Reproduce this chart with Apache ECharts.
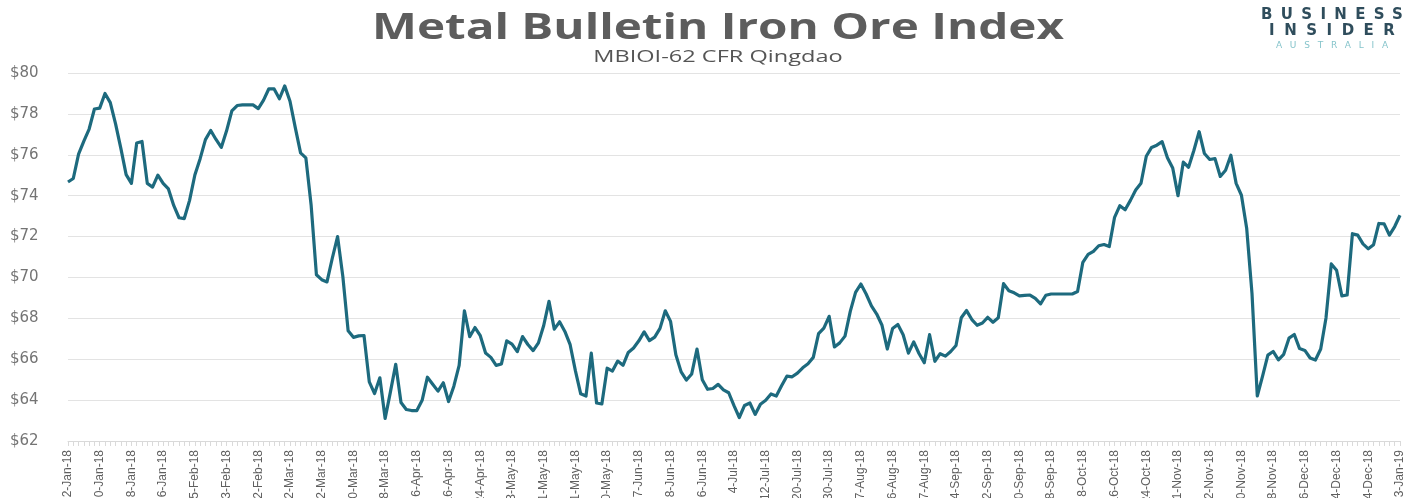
<!DOCTYPE html>
<html>
<head>
<meta charset="utf-8">
<script src="https://cdn.jsdelivr.net/npm/echarts@6/dist/echarts.min.js"></script>
<style>
  html, body { margin: 0; padding: 0; background: #ffffff; }
  #wrap { position: relative; width: 1410px; height: 498px; overflow: hidden; }
  #chart { width: 1410px; height: 498px; }
  #logo { position: absolute; left: 1250px; top: 7px; width: 164px; text-align: center; font-family: "DejaVu Sans", sans-serif; font-weight: bold; line-height: 1; }
  #logo .l1 { font-size: 15px; letter-spacing: 8.3px; padding-left: 8.3px; color: #2f4d5c; }
  #logo .l2 { font-size: 15px; letter-spacing: 9.5px; padding-left: 9.5px; color: #2f4d5c; margin-top: 1px; }
  #logo .l3 { font-size: 9px; letter-spacing: 7.8px; padding-left: 7.8px; color: #86c4cb; margin-top: 3px; font-weight: normal; }
</style>
</head>
<body>
<div id="wrap">
  <div id="chart"></div>
  <div id="logo"><div class="l1">BUSINESS</div><div class="l2">INSIDER</div><div class="l3">AUSTRALIA</div></div>
</div>
<script>
// ---- data ----
const titleText = 'Metal Bulletin Iron Ore Index';
const subtitleText = 'MBIOI-62 CFR Qingdao';

// trading days: weekdays from 2-Jan-2018 to 3-Jan-2019, minus holidays
const firstDay = '2018-01-02';
const lastDay = '2019-01-03';
const holidays = ['2018-02-16','2018-03-30','2018-05-01','2018-05-28','2018-06-15',
                  '2018-08-15','2018-08-20','2018-11-05','2018-12-25','2019-01-01'];
const monthNames = ['Jan','Feb','Mar','Apr','May','Jun','Jul','Aug','Sep','Oct','Nov','Dec'];

// MBIOI-62 index, US$/t
const prices = [
  74.67, 74.84, 76.03, 76.67, 77.26, 78.24, 78.28, 79.00, 78.55, 77.51,
  76.31, 75.03, 74.60, 76.58, 76.65, 74.60, 74.42, 75.00, 74.60, 74.33,
  73.52, 72.92, 72.88, 73.77, 75.01, 75.81, 76.74, 77.19, 76.75, 76.36,
  77.17, 78.15, 78.41, 78.44, 78.44, 78.44, 78.26, 78.67, 79.23, 79.22,
  78.74, 79.37, 78.62, 77.33, 76.09, 75.85, 73.53, 70.13, 69.89, 69.78,
  70.94, 72.00, 70.04, 67.39, 67.07, 67.14, 67.16, 64.89, 64.32, 65.09,
  63.10, 64.40, 65.75, 63.88, 63.54, 63.49, 63.49, 63.99, 65.12, 64.78,
  64.44, 64.85, 63.93, 64.68, 65.70, 68.37, 67.10, 67.55, 67.15, 66.30,
  66.09, 65.70, 65.77, 66.90, 66.74, 66.37, 67.11, 66.72, 66.42, 66.80,
  67.65, 68.83, 67.47, 67.83, 67.36, 66.71, 65.43, 64.31, 64.20, 66.30,
  63.86, 63.81, 65.56, 65.42, 65.91, 65.70, 66.33, 66.55, 66.90, 67.34,
  66.91, 67.08, 67.51, 68.37, 67.85, 66.22, 65.38, 64.98, 65.28, 66.50,
  65.00, 64.53, 64.57, 64.77, 64.50, 64.36, 63.73, 63.15, 63.74, 63.86,
  63.30, 63.80, 63.99, 64.30, 64.20, 64.70, 65.17, 65.14, 65.32, 65.58,
  65.78, 66.09, 67.25, 67.52, 68.10, 66.60, 66.80, 67.13, 68.34, 69.27,
  69.68, 69.19, 68.61, 68.21, 67.66, 66.50, 67.50, 67.70, 67.20, 66.30,
  66.85, 66.28, 65.83, 67.20, 65.90, 66.27, 66.15, 66.38, 66.67, 68.03,
  68.38, 67.94, 67.66, 67.77, 68.05, 67.81, 68.03, 69.70, 69.35, 69.25,
  69.10, 69.12, 69.14, 68.98, 68.71, 69.13, 69.19, 69.19, 69.19, 69.19,
  69.19, 69.31, 70.74, 71.13, 71.28, 71.55, 71.61, 71.51, 72.94, 73.51,
  73.31, 73.77, 74.28, 74.61, 75.93, 76.36, 76.47, 76.64, 75.85, 75.35,
  74.00, 75.64, 75.39, 76.21, 77.13, 76.06, 75.77, 75.81, 74.94, 75.24,
  75.98, 74.60, 74.02, 72.39, 69.21, 64.20, 65.17, 66.20, 66.38, 65.97,
  66.24, 67.03, 67.21, 66.52, 66.43, 66.06, 65.96, 66.50, 68.02, 70.66,
  70.35, 69.10, 69.14, 72.14, 72.07, 71.64, 71.40, 71.60, 72.64, 72.62,
  72.07, 72.49, 73.04
];

const yMin = 62, yMax = 80, yStep = 2;

// ---- build categories ----
function buildDates() {
  const out = [];
  const hol = new Set(holidays);
  const d = new Date(firstDay + 'T00:00:00Z');
  const end = new Date(lastDay + 'T00:00:00Z');
  while (d <= end) {
    const wd = d.getUTCDay();
    const iso = d.toISOString().slice(0, 10);
    if (wd !== 0 && wd !== 6 && !hol.has(iso)) {
      out.push(d.getUTCDate() + '-' + monthNames[d.getUTCMonth()] + '-' + String(d.getUTCFullYear()).slice(2));
    }
    d.setUTCDate(d.getUTCDate() + 1);
  }
  return out;
}
const categories = buildDates();

const chart = echarts.init(document.getElementById('chart'));
chart.setOption({
  backgroundColor: '#ffffff',
  animation: false,
  graphic: [
    { type: 'text', x: 718, y: 12, scaleX: 1.36, silent: true,
      style: { text: titleText, fontFamily: 'Open Sans', fontWeight: 'bold', fontSize: 35,
               fill: '#5d5d5d', textAlign: 'center', textVerticalAlign: 'top' } },
    { type: 'text', x: 718, y: 50, scaleX: 1.52, silent: true,
      style: { text: subtitleText, fontFamily: 'Open Sans', fontWeight: 'normal', fontSize: 15.5,
               fill: '#555555', textAlign: 'center', textVerticalAlign: 'top' } }
  ],
  grid: { left: 68, right: 10, top: 73, bottom: 57, containLabel: false, outerBoundsMode: 'none' },
  xAxis: {
    type: 'category',
    data: categories,
    boundaryGap: false,
    axisLine: { show: true, lineStyle: { color: '#d9d9d9', width: 1 } },
    axisTick: { show: true, interval: 0, length: 5, lineStyle: { color: '#dadada' } },
    axisLabel: {
      interval: 5, rotate: 90, margin: 9,
      fontFamily: 'Liberation Sans Narrow, Liberation Sans, sans-serif',
      fontSize: 12, color: '#5f5f5f'
    },
    splitLine: { show: false }
  },
  yAxis: {
    type: 'value',
    min: yMin, max: yMax, interval: yStep,
    axisLine: { show: false },
    axisTick: { show: false },
    axisLabel: {
      formatter: v => '$' + v,
      align: 'left', margin: 58,
      fontFamily: 'DejaVu Sans', fontSize: 15, color: '#747474'
    },
    splitLine: { show: true, lineStyle: { color: '#e3e3e3', width: 1 } }
  },
  series: [{
    type: 'line',
    data: prices,
    symbol: 'none',
    lineStyle: { color: '#1d6a7e', width: 3.2, join: 'round' },
    itemStyle: { color: '#1d6a7e' }
  }]
});
</script>
</body>
</html>
